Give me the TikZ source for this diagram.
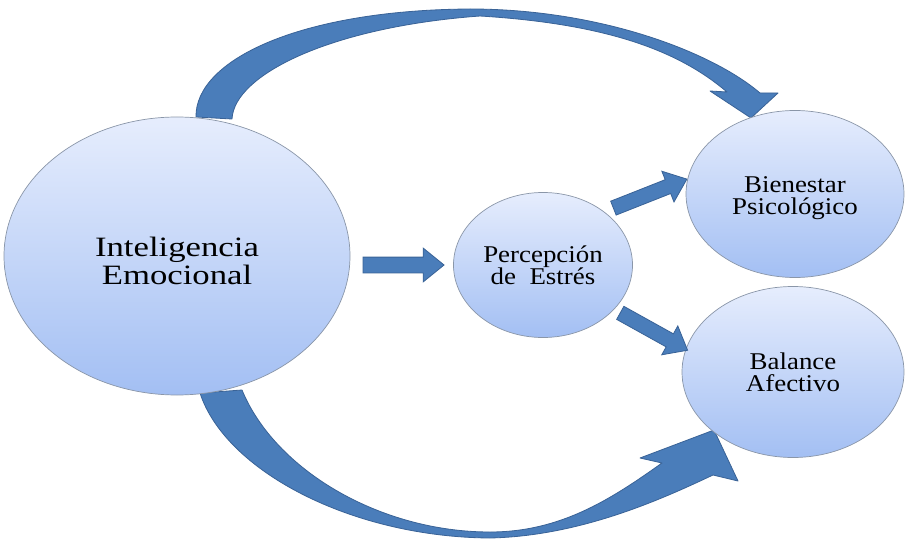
\documentclass[tikz,border=0pt]{standalone}
\usepackage{fontspec}
\setmainfont{Liberation Serif}[FakeStretch=1.12]
\usetikzlibrary{shapes.geometric,shapes.arrows}
\newcommand\pxu{0.3mm}
\definecolor{arrfill}{HTML}{4A7DBA}
\definecolor{arrline}{HTML}{3A6397}
\definecolor{balltop}{HTML}{E6EDFD}
\definecolor{ballbot}{HTML}{A3BFF3}
\definecolor{ballline}{HTML}{8A96A8}
\begin{document}
\begin{tikzpicture}[x=\pxu,y=-\pxu,
  ball/.style={ellipse,draw=ballline,line width=0.6pt,top color=balltop,bottom color=ballbot,
    inner sep=0pt,align=center,font=\fontsize{20.5}{19}\selectfont},
  barrow/.style={single arrow,draw=arrline,line width=0.7pt,fill=arrfill,inner xsep=0pt,
    inner ysep=7.5*\pxu,minimum width=33*\pxu,single arrow head extend=9*\pxu,
    single arrow tip angle=78,sloped},
  arcarrow/.style={fill=arrfill,draw=arrline,line width=0.7pt,line join=round}]
\useasboundingbox (0,0) rectangle (905,546);
% curved arrows, behind the ellipses
\draw[arcarrow] (196,117) .. controls (195,60) and (300,10) .. (470,9)
  .. controls (600,9) and (712,52) .. (760,93) -- (778,93) -- (751,118) -- (710,91) -- (727,92)
  .. controls (680,52) and (610,24) .. (480,16)
  .. controls (330,27) and (234,75) .. (232,119) -- cycle;
\draw[arcarrow] (200,393) .. controls (225,470) and (350,537) .. (490,538)
  .. controls (580,536) and (660,500) .. (713,475) -- (738,481) -- (714,430) -- (640,458) -- (662,463)
  .. controls (610,500) and (560,532) .. (490,532)
  .. controls (380,532) and (275,470) .. (242,390) -- cycle;
% the four constructs
\node[ball,minimum width=346*\pxu,minimum height=278*\pxu,
  font=\fontsize{23.9}{24.5}\selectfont\addfontfeature{FakeStretch=1.24}]
  (IE) at (177,256) {\rule{0pt}{25pt}Inteligencia\\Emocional};
\node[ball,minimum width=179*\pxu,minimum height=145*\pxu] (PE) at (543,265) {Percepción\\de\ \ Estrés};
\node[ball,minimum width=218*\pxu,minimum height=167*\pxu] (BP) at (795,194) {\rule{0pt}{21pt}Bienestar\\Psicológico};
\node[ball,minimum width=222*\pxu,minimum height=171*\pxu] (BA) at (793,372) {Balance\\Afectivo};
% straight block arrows
\path (IE.east |- PE) -- (PE.west) node[barrow,pos=0.47,minimum height=81*\pxu] {};
\path (PE.41) -- (BP.172) node[barrow,midway,minimum height=79*\pxu,inner ysep=7*\pxu] {};
\path (PE.-32) -- (BA.168) node[barrow,midway,minimum height=77*\pxu,inner ysep=7*\pxu] {};
\end{tikzpicture}
\end{document}
